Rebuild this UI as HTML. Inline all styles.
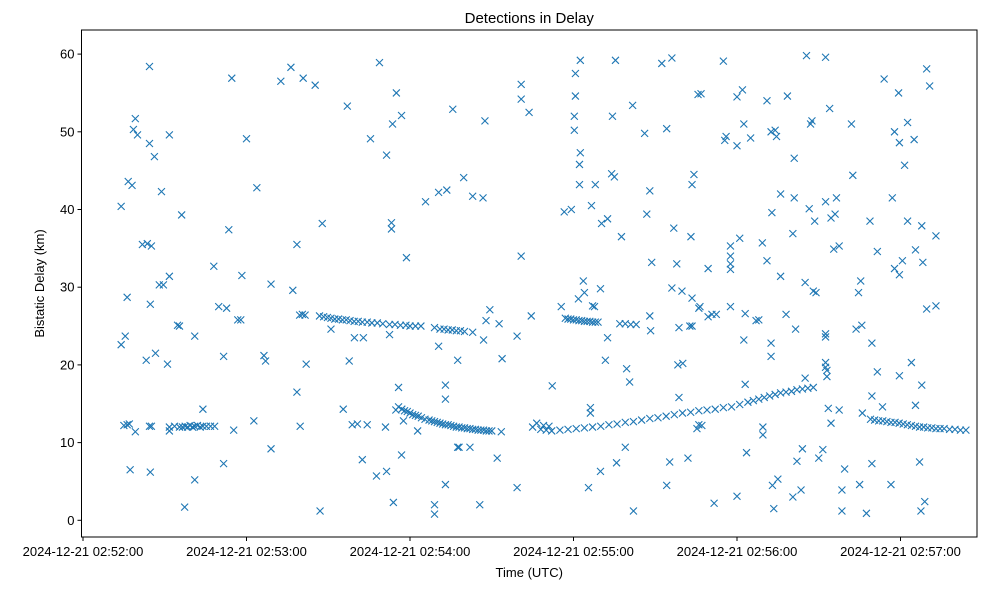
<!DOCTYPE html>
<html><head><meta charset="utf-8"><style>
body{margin:0;background:#fff;}
svg{display:block;font-family:"Liberation Sans","DejaVu Sans",sans-serif;}
</style></head><body>
<svg id="chart" width="984" height="590"></svg>
<script>
const xTickLabels=["2024-12-21 02:52:00","2024-12-21 02:53:00","2024-12-21 02:54:00","2024-12-21 02:55:00","2024-12-21 02:56:00","2024-12-21 02:57:00"];
const xTickSeconds=[0,60,120,180,240,300];
const yTicks=[0,10,20,30,40,50,60];
// detection times: seconds after 02:52:00
const detTime=[
14,14,15,15.5,16.2,16.2,16.6,17,17.3,18,18.5,19.2,19.2,20,21.8,23.2,23.6,24.4,24.4,24.4,24.7,24.7,25.1,25.1,26.2,26.6,28,28.8,29.5,31,31.7,31.7,31.7,31.7,33.6,34.7,35.4,36.2,37.3,
35.4,36.5,37.5,38.4,39.3,40.2,41,42,43,44,45.3,46.8,48.3,
41,41,44,48,49.8,51.6,51.6,52.7,53.5,54.6,55.3,56.8,57.9,58.3,60,62.7,63.8,66.4,67,69,69,72.6,76.3,77,78.5,78.5,79.7,80.8,81.9,85.2,87,87.8,
79.5,80.5,81.5,86.8,88.3,89.7,91,92.4,93.8,95.2,96.6,98,99.5,101,102.5,104.3,106,108,110,112.5,114.5,116.5,118.5,120,122,124,
91,95.5,97,97.7,98.8,99.6,100.7,102.5,102.9,104.3,105.5,107.7,108.8,111,111.4,111.4,113.2,113.2,112.5,113.9,115,113.6,115.8,116.9,116.9,118.7,117.6,122.8,
125.7,129,129,130.5,130.5,133,133,133,133.5,135.7,137.5,137.5,138,139.7,142,143,145.6,146.8,147.5,147,147.9,149.3,152,152.7,153.8,159.3,159.3,160.8,160.8,160.8,163.7,164.5,
114.8,115.8,117,118,119,120,121,122,123,124.2,125.5,127,128,129,130,131,132,133,134,135,136,137,138,139,140,141,142,143,144,145,146,147,148,149,150,153.5,
129,131,132.5,134,135.5,137,138.5,140,143,
165,166.5,168,169,170,171,172.2,175.5,176.6,179.2,180.3,180.3,180.7,180.7,181.8,182.2,182.2,182.5,182.5,183.6,184,185.5,186.2,186.2,186.6,187,187.7,188,189.9,189.9,190.3,191.7,192.5,192.5,194,194.3,195,195.4,195.8,197.6,199,199.5,200.6,201.7,202,206.9,208,208.3,208,208.7,206.1,
177,178,179,180,181,182,183,184,185,186,187,188,189,197,199,201,203,
172,175,178,181,184,187,190,193,196,199,202,205,208,211,214,217,220,223,226,229,232,235,238,241,244,246,248,250,252,254,256,258,260,262,264,266,268,
212.4,214.2,214.2,215.3,216.1,216.8,216.1,217.9,218.3,218.7,218.7,219.8,220.1,222,222.7,223.1,223.5,224.2,223.5,225.3,226,225.7,226.8,226.4,229.4,229.4,230.8,227.1,
223.5,226,231.6,232.4,235,235.5,236,237.6,237.6,237.6,237.6,237.6,240,240,240,241,242,242.5,242.5,243,243.5,243,245,247,248,249.5,249.5,249.3,251,251,252.5,252.5,252.5,252.8,253,253.5,254,254.5,255,256,256,258,258.5,260.5,260.5,261,261,261.5,262,263.5,264,265,265,265.5,266.5,267,267.5,268,268.5,269,
270,271.5,272.5,272.5,272.5,272.5,272.5,272.5,273,273,273.5,274.5,274,275.5,274.5,276,276.5,277.5,277.5,278.5,278.5,279.5,282,
282.5,283.7,285,284.6,285.4,285.8,288.8,289.5,289.5,289.5,291.5,291.5,293.4,294,296.5,297,297.8,297.8,299.3,299.6,299.6,300.7,299.6,301.5,302.6,302.6,304,305.5,305,305.5,307,307.5,307.8,307.8,308.2,308.9,309.6,309.6,310.7,313,313,
286,287.5,289,290.5,292,293.5,295,296.5,298,299.5,301,302.5,304,305.5,307,308.5,310,311.5,313,314.5,316,318,320,322,324];
const detDelay=[
40.4,22.6,12.2,23.7,12.3,28.7,43.6,12.4,6.5,43.1,50.3,51.7,11.4,49.6,35.5,20.6,35.6,12.1,48.5,58.4,27.8,6.2,35.3,12.1,46.8,21.5,30.3,42.3,30.3,20.1,31.4,49.6,12,11.5,12.1,25.1,25,39.3,1.7,
12,12,12.1,12,12.2,12,12.1,12.2,12,12.1,12.1,12.1,12.1,
5.2,23.7,14.3,32.7,27.5,21.1,7.3,27.3,37.4,56.9,11.6,25.8,25.8,31.5,49.1,12.8,42.8,21.2,20.5,30.4,9.2,56.5,58.3,29.6,35.5,16.5,12.1,56.9,20.1,56,1.2,38.2,
26.4,26.5,26.4,26.3,26.2,26.1,26,25.9,25.9,25.8,25.8,25.7,25.6,25.6,25.5,25.5,25.4,25.4,25.3,25.2,25.2,25.1,25.1,25,25,25,
24.6,14.3,53.3,20.5,12.3,23.5,12.4,7.8,23.5,12.3,49.1,5.7,58.9,12,47,6.3,38.3,37.5,23.9,2.3,55,51,17.1,8.4,52.1,33.8,12.8,11.5,
41,2,0.8,22.4,42.2,15.6,17.4,4.6,42.5,52.9,20.6,9.4,9.4,44.1,9.4,41.7,2,41.5,51.4,23.2,25.7,27.1,8,25.3,20.8,4.2,23.7,34,56.1,54.2,52.5,26.3,
14.2,14.6,14.3,14.1,14,13.8,13.6,13.5,13.4,13.2,13,12.9,12.8,12.7,12.6,12.5,12.4,12.3,12.3,12.2,12.1,12,12,11.9,11.9,11.8,11.8,11.7,11.7,11.6,11.6,11.6,11.5,11.5,11.5,11.4,
24.8,24.6,24.6,24.5,24.5,24.4,24.4,24.3,24.2,
12,12.5,11.7,12.2,11.6,12.1,17.3,27.5,39.7,40,52,50.2,57.5,54.6,28.5,45.8,43.2,47.3,59.2,30.8,29.3,4.2,14.5,13.8,40.5,27.6,27.5,43.2,6.3,29.8,38.2,20.6,23.5,38.8,44.6,52,44.2,59.2,7.4,36.5,9.4,19.5,17.8,53.4,1.2,39.4,42.4,24.4,26.3,33.2,49.8,
26,25.9,25.9,25.8,25.8,25.7,25.7,25.6,25.6,25.6,25.5,25.5,25.5,25.3,25.3,25.2,25.2,
11.5,11.6,11.7,11.8,11.9,12,12.1,12.3,12.4,12.6,12.7,12.9,13.1,13.2,13.4,13.6,13.8,13.9,14.1,14.2,14.3,14.5,14.6,14.9,15.2,15.4,15.6,15.8,16,16.2,16.4,16.5,16.6,16.8,16.9,17,17.1,
58.8,50.4,4.5,7.5,59.5,37.6,29.9,33,20,24.8,15.8,29.5,20.2,8,25,36.5,43.2,44.5,25,11.8,12.3,54.8,54.9,27.5,32.4,26.2,26.5,12.2,
28.6,27.3,2.2,26.5,59.1,48.9,49.4,35.3,34,32.3,33,27.5,54.5,3.1,48.2,36.3,55.4,51,23.2,17.5,8.7,26.6,49.2,25.7,25.8,12,11,35.7,33.4,54,21.1,22.8,50,39.6,4.5,1.5,50.2,49.4,5.3,42,31.4,26.5,54.6,3,36.9,46.6,41.5,24.6,7.6,3.9,9.2,18.3,30.6,59.8,
40.1,51,51.4,29.5,38.5,29.3,8,9.1,24,41,23.6,59.6,20.3,19.7,18.5,19.3,14.4,12.5,53,34.9,38.9,39.4,41.5,35.3,14.2,3.9,1.2,6.6,51,44.4,24.6,
4.6,29.3,30.8,25.1,38.5,16,7.3,22.8,34.6,19.1,14.6,56.8,4.6,41.5,32.4,50,55,18.6,48.6,33.4,31.6,45.7,38.5,51.2,20.3,14.8,49,34.8,7.5,1.2,17.4,37.9,33.2,2.4,27.2,58.1,55.9,27.6,36.6,13.8,0.9,
13,12.9,12.8,12.8,12.7,12.6,12.6,12.5,12.4,12.3,12.2,12.1,12,12,11.9,11.9,11.8,11.8,11.8,11.7,11.7,11.6,11.6,11.6,11.6];

const L=81.5,R=977,T=30,B=537;
const x=t=>83+t*2.725;
const y=v=>520.3-v*7.77;
const svg=document.getElementById('chart');
const NS='http://www.w3.org/2000/svg';
function mk(tag,attrs,parent){const e=document.createElementNS(NS,tag);for(const k in attrs)e.setAttribute(k,attrs[k]);(parent||svg).appendChild(e);return e;}

const pts=mk('g',{stroke:'#1f77b4','stroke-width':'1.1',fill:'none'});


const n=Math.min(detTime.length,detDelay.length);
for(let i=0;i<n;i++){
  const cx=x(detTime[i]),cy=y(detDelay[i]),s=3.5;
  const p=mk('path',{d:`M${cx-s},${cy-s}L${cx+s},${cy+s}M${cx-s},${cy+s}L${cx+s},${cy-s}`},pts);
  
  
}
const frame=mk('rect',{x:L,y:T,width:R-L,height:B-T,fill:'none',stroke:'#000','stroke-width':'1'});



xTickSeconds.forEach((s,i)=>{
  const px=x(s);
  const tk=mk('line',{x1:px,x2:px,y1:B,y2:B+4,stroke:'#000'});
  
  
  const tx=mk('text',{x:px,y:B+19,'text-anchor':'middle','font-size':'13'});
  tx.textContent=xTickLabels[i];
  
  
});
yTicks.forEach(v=>{
  const py=y(v);
  const tk=mk('line',{x1:L-4,x2:L,y1:py,y2:py,stroke:'#000'});
  
  
  const tx=mk('text',{x:L-7,y:py+4.5,'text-anchor':'end','font-size':'13'});
  tx.textContent=v;
  
  
});
const title=mk('text',{x:(L+R)/2,y:23,'text-anchor':'middle','font-size':'15'});
title.textContent='Detections in Delay';


const xt=mk('text',{x:(L+R)/2,y:577,'text-anchor':'middle','font-size':'13'});
xt.textContent='Time (UTC)';


const yt=mk('text',{x:0,y:0,'text-anchor':'middle','font-size':'13',transform:`translate(44,${(T+B)/2}) rotate(-90)`});
yt.textContent='Bistatic Delay (km)';


</script>
</body></html>
